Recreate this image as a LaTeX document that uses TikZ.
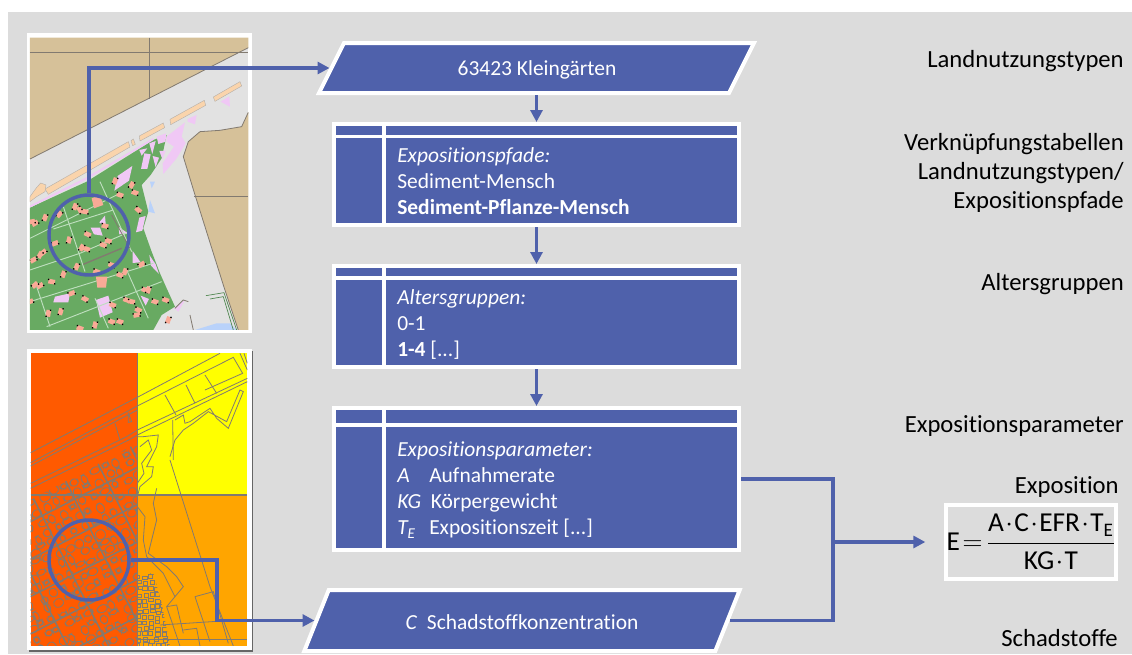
\documentclass[tikz,border=0pt]{standalone}
\usepackage{fontspec}
\setmainfont{Carlito}[Ligatures=NoCommon]
\usetikzlibrary{arrows.meta,calc}
\definecolor{panel}{RGB}{220,220,220}
\definecolor{flow}{RGB}{79,97,171}
\definecolor{sand}{RGB}{214,193,153}
\definecolor{street}{RGB}{226,226,226}
\definecolor{garden}{RGB}{104,170,98}
\definecolor{path}{RGB}{190,222,190}
\definecolor{house}{RGB}{250,170,150}
\definecolor{lilac}{RGB}{240,200,245}
\definecolor{peach}{RGB}{250,212,172}
\definecolor{water}{RGB}{185,210,250}
\definecolor{soilhigh}{RGB}{255,90,0}
\definecolor{soilmid}{RGB}{255,165,0}
\definecolor{soillow}{RGB}{255,255,0}
\definecolor{mapline}{RGB}{130,122,112}
\tikzset{
  flowline/.style={draw=flow, line width=2.6pt},
  flowarrow/.style={flowline, -{Triangle[length=9pt,width=9pt]}},
  tablebox/.style={draw=white, fill=flow, line width=3pt, inner sep=0pt, minimum width=303.75pt},
  slantbox/.style={draw=white, fill=flow, line width=3pt, inner sep=0pt, transform shape},
  tablerule/.style={draw=white, line width=2.6pt},
  boxtext/.style={text=white, align=left, anchor=north west, inner sep=0pt, font=\fontsize{16.1}{19.5}\selectfont},
  slanttext/.style={text=white, font=\fontsize{16.1}{19.5}\selectfont},
  steplabel/.style={text=black, align=right, anchor=east, inner sep=0pt, font=\fontsize{18.5}{21.75}\selectfont},
  lens/.style={circle, draw=flow, line width=2.6pt, inner sep=0pt, minimum size=60pt},
  roadline/.style={draw=mapline, line width=0.6pt},
}
\begin{document}
\begin{tikzpicture}[x=0.75pt, y=-0.75pt]
\useasboundingbox (0,0) rectangle (1132,654);
\fill[white] (0,0) rectangle (1132,654);
\fill[panel] (8,12) rectangle (1132,654);
\fill[black!60] (29,351) rectangle (253,652);
\fill[white] (27,33) rectangle (252,333);
\fill[white] (27,349) rectangle (252,650);
% land use map
\begin{scope}[shift={(20,25)}, scale=0.3333]
\clip (30,38) rectangle (685,915);
\fill[street] (30,38) rectangle (685,915);
\fill[sand] (30,38) -- (685,38) -- (685,68) -- (30,402) -- cycle;
\draw[roadline] (30,402) -- (685,68);
\draw[roadline] (30,82) -- (685,82);
\draw[roadline] (388,38) -- (388,222);
\fill[sand] (685,262) -- (665,305) -- (600,316) -- (540,320) -- (505,350) -- (490,395) -- (522,500) -- (610,780) -- (655,915) -- (685,915) -- cycle;
\draw[roadline] (685,262) -- (665,305) -- (600,316) -- (540,320) -- (505,350) -- (490,395) -- (522,500) -- (610,780) -- (655,915);
\draw[roadline] (522,514) -- (685,514);
\fill[garden] (30,548) -- (200,470) -- (400,345) -- (440,330) -- (425,400) -- (392,450) -- (365,480) -- (385,560) -- (370,610) -- (395,680) -- (420,745) -- (440,790) -- (465,845) -- (425,870) -- (400,915) -- (30,915) -- cycle;
\draw[lilac, line width=1.4pt] (30,545) -- (200,460) -- (400,342);
\foreach \pts in {{(75,492) -- (325,350) -- (330,366) -- (85,508)},
                  {(358,333) -- (430,294) -- (434,308) -- (360,348)},
                  {(450,283) -- (553,226) -- (557,241) -- (452,299)},
                  {(580,216) -- (660,170) -- (665,183) -- (585,229)},
                  {(333,347) -- (340,342) -- (346,358) -- (338,362)},
                  {(30,515) -- (48,490) -- (62,474) -- (78,480) -- (75,500) -- (50,515) -- (30,530)}}
  \draw[fill=peach, draw=mapline!60, line width=0.3pt] \pts -- cycle;
\foreach \pts in {{(440,335) -- (495,292) -- (485,335) -- (497,355) -- (470,400) -- (430,447) -- (428,415) -- (462,365) -- (440,350)},
                  {(503,282) -- (530,270) -- (525,298) -- (503,290)},
                  {(602,230) -- (628,214) -- (630,245)},
                  {(410,335) -- (438,325) -- (437,350) -- (415,357)},
                  {(105,815) -- (150,805) -- (145,832) -- (100,832)},
                  {(228,825) -- (265,812) -- (278,862) -- (240,878)},
                  {(212,608) -- (240,608) -- (248,632) -- (222,628)},
                  {(238,592) -- (255,572) -- (258,607)},
                  {(296,606) -- (324,625) -- (298,628)},
                  {(338,678) -- (362,712) -- (338,714)},
                  {(358,578) -- (377,573) -- (367,617) -- (348,622)},
                  {(293,453) -- (337,423) -- (327,467) -- (283,497)},
                  {(358,375) -- (382,370) -- (365,392)},
                  {(388,355) -- (407,348) -- (397,387)},
                  {(373,385) -- (392,388) -- (382,432) -- (363,432)},
                  {(418,378) -- (437,378) -- (427,402)},
                  {(398,393) -- (417,398) -- (407,427)},
                  {(388,690) -- (407,718) -- (417,747) -- (393,722)},
                  {(362,812) -- (387,822) -- (377,842)},
                  {(462,850) -- (495,825) -- (475,860)}}
  \fill[lilac] \pts -- cycle;
\foreach \pts in {{(30,735) -- (180,685) -- (330,620)},
                  {(100,612) -- (280,555)},
                  {(30,830) -- (400,715)},
                  {(80,905) -- (425,770)},
                  {(30,640) -- (300,505)},
                  {(130,545) -- (195,740)},
                  {(240,470) -- (335,680)},
                  {(320,735) -- (385,880)},
                  {(225,820) -- (265,910)},
                  {(45,770) -- (90,905)}}
  \draw[path, line width=0.7pt] \pts;
\draw[mapline, line width=1pt] (190,718) -- (305,670);
\draw[mapline, line width=0.6pt] (275,570) -- (330,670);
\foreach \x/\y/\a in {180/555/-60, 118/568/50, 75/578/70, 45/595/30, 285/468/70, 300/510/-20,
    345/503/-20, 335/480/60, 355/555/-40, 203/628/-25, 255/603/-15, 147/645/75, 105/655/20, 70/682/40,
    40/705/30, 200/672/-20, 265/648/-20, 130/748/70, 60/782/30, 195/822/-30, 122/860/75, 85/865/80,
    30/830/20, 275/890/-20, 225/900/75, 180/910/-20, 355/855/-25, 320/825/-20, 315/740/70, 375/795/-20,
    405/830/-20, 278/840/-20, 365/718/30, 275/720/-20, 230/740/-20, 170/725/65, 95/770/-10, 300/750/-20,
    437/825/-20, 445/885/70, 45/780/40, 155/805/20, 165/545/70, 195/560/-10, 250/660/-20, 185/668/60,
    300/890/-20, 35/590/10, 335/830/-10, 385/795/70, 60/690/60, 350/870/10}
  {
  \fill[house, shift={(\x,\y)}, rotate=\a] (-10,-7) rectangle (10,7);
  \fill[black, shift={(\x,\y)}, rotate=\a] (-12,-7) rectangle (-8,-3);
  \fill[black, shift={(\x,\y)}, rotate=\a] (8,3) rectangle (12,7);
  }
\fill[house] (228,755) -- (262,755) -- (258,788) -- (232,788) -- cycle;
\fill[house] (215,520) -- (240,510) -- (250,540) -- (222,550) -- cycle;
\fill[water] (390,470) -- (405,470) -- (395,490) -- cycle;
\fill[water] (390,525) -- (405,565) -- (385,560) -- cycle;
\fill[water] (525,915) -- (590,895) -- (630,895) -- (650,915) -- cycle;
\draw[black!45!green!40!gray, line width=0.5pt] (558,812) -- (612,803) -- (650,915);
\draw[black!45!green!40!gray, line width=0.5pt] (570,822) -- (610,815) -- (640,915);
\draw[roadline] (465,850) -- (490,825) -- (505,830);
\draw[roadline] (510,870) -- (520,915);
\end{scope}
% soil map
\begin{scope}[shift={(20,340)}, scale=0.3333]
\clip (32,40) rectangle (682,918);
\fill[soilhigh] (32,40) rectangle (352,918);
\fill[soillow] (352,40) rectangle (682,465);
\fill[soilmid] (352,465) rectangle (682,918);
\begin{scope}
\clip (32,480) -- (350,310) -- (352,918) -- (32,918) -- cycle;
\pgfmathsetseed{7}
\begin{scope}[rotate=27]
\foreach \i in {0,...,17}
  \foreach \j in {0,...,21}
    \draw[roadline, line width=0.6pt, rounded corners=3pt] (\i*35-410+7*rand,\j*34+270+7*rand) rectangle ++(24+9*rand,22+9*rand);
\foreach \j in {0,...,7}
  \draw[roadline, line width=1.1pt] (-420,\j*100+300) -- (200,\j*100+300);
\foreach \i in {0,...,5}
  \draw[roadline, line width=1.1pt] (\i*110-400,270) -- (\i*110-400,1000);
\end{scope}
\end{scope}
\begin{scope}
\clip (352,700) -- (400,700) -- (425,790) -- (450,918) -- (352,918) -- cycle;
\foreach \i in {0,...,5}
  \foreach \j in {0,...,14}
    \draw[roadline, line width=0.6pt] (\i*19+350+4*rand,\j*17+690+4*rand) rectangle ++(13,11);
\end{scope}
\draw[roadline, line width=0.9pt] (352,40) -- (352,918);
\draw[roadline, line width=0.9pt] (32,465) -- (682,465);
\draw[roadline] (32,338) -- (352,172) -- (600,40);
\draw[roadline] (32,368) -- (352,198) -- (640,52) -- (668,100) -- (555,150);
\draw[roadline] (32,378) -- (352,210);
\draw[roadline] (32,430) -- (320,290) -- (352,270) -- (682,115);
\draw[roadline] (32,445) -- (330,298) -- (352,285) -- (682,125);
\draw[roadline] (660,40) -- (682,90);
\draw[roadline] (672,40) -- (682,70);
\draw[roadline] (435,165) -- (468,225);
\draw[roadline] (498,135) -- (525,190);
\draw[roadline] (555,105) -- (590,160);
\draw[roadline] (285,250) -- (300,300);
\draw[roadline] (325,220) -- (335,245) -- (325,247) -- cycle;
\draw[roadline] (465,240) -- (490,225) -- (495,250) -- (510,245) -- (570,205) -- (590,235) -- (625,265) -- (670,155) -- (660,150) -- (620,245) -- (565,215) -- (520,250) -- (490,270) -- (465,300) -- (450,350);
\draw[roadline] (450,360) -- (570,740) -- (640,918);
\draw[roadline] (458,240) -- (460,360);
\draw[roadline] (352,290) -- (370,290) -- (415,285) -- (410,320) -- (395,350) -- (380,380) -- (400,380) -- (395,410) -- (360,440) -- (352,470);
\draw[roadline] (360,320) -- (385,300) -- (395,330) -- (365,370) -- (372,400) -- (352,430);
\draw[roadline] (410,445) -- (400,490) -- (410,540) -- (385,640) -- (440,680) -- (470,710) -- (490,740) -- (440,800) -- (480,918);
\draw[roadline] (352,500) -- (375,530) -- (370,600) -- (380,650) -- (430,700) -- (465,770);
\draw[roadline] (525,770) -- (580,755) -- (625,910);
\draw[roadline] (525,770) -- (570,905);
\draw[roadline] (420,855) -- (500,850) -- (682,838);
\draw[roadline] (352,898) -- (682,898);
\draw[roadline] (440,800) -- (470,795) -- (490,880);
\draw[roadline] (490,870) -- (530,865) -- (540,918);
\end{scope}
\node[lens] (gardenlens) at (89,235) {};
\node[lens] (soillens) at (89,560) {};
\node[slantbox, xslant=0.5, minimum width=307.5pt, minimum height=37.5pt] (gardens) at (536.5,68) {};
\node[slantbox, xslant=0.4, minimum width=308.25pt, minimum height=45.75pt] (pollutant) at (522,620.5) {};
\node[tablebox, minimum height=75.75pt] (paths) at (536.5,174.5) {};
\node[tablebox, minimum height=75.75pt] (ages) at (536.5,316.5) {};
\node[tablebox, minimum height=106.5pt] (params) at (536.5,479) {};
\foreach \tb/\rulepos in {paths/14.5, ages/14, params/19}
  {
  \draw[tablerule] ($(\tb.north west)+(2,\rulepos)$) -- ($(\tb.north east)+(-2,\rulepos)$);
  \draw[tablerule] ($(\tb.north west)+(52,2)$) -- ($(\tb.south west)+(52,-2)$);
  }
\node[slanttext] (gardenstext) at (537,69.5) {63423 Kleingärten};
\node[slanttext] (pollutanttext) at (522,622) {\textit{C}\ \ Schadstoffkonzentration};
\node[boxtext] (pathstext) at (397,147) {\textit{Expositionspfade:}\\Sediment-Mensch\\\textbf{Sediment-Pflanze-Mensch}};
\node[boxtext] (agestext) at (397,289) {\textit{Altersgruppen:}\\0-1\\\textbf{1-4} [...]};
\node[boxtext] (paramstext) at (397,441.5) {\textit{Expositionsparameter:}\\\makebox[24pt][l]{\textit{A}}Aufnahmerate\\\textit{KG}\ \ Körpergewicht\\\makebox[24pt][l]{\textit{T\textsubscript{E}}}Expositionszeit [...]};
\node[draw=white, line width=3pt, inner sep=0pt, minimum width=127.5pt, minimum height=55.5pt, font=\fontsize{20.5}{24}\selectfont] (formula) at (1031,542) {E\kern2pt$=$\kern3pt$\displaystyle\frac{\mbox{A\kern1pt$\cdot$\kern1pt C\kern1pt$\cdot$\kern1pt EFR\kern1pt$\cdot$\kern1pt T\textsubscript{E}}}{\mbox{KG\kern1pt$\cdot$\kern1pt T}}$};
\node[steplabel] (landuselabel) at (1124,61) {Landnutzungstypen};
\node[steplabel] (pathslabel) at (1124,173) {Verknüpfungstabellen\\Landnutzungstypen/\\Expositionspfade};
\node[steplabel] (ageslabel) at (1124,284.5) {Altersgruppen};
\node[steplabel] (paramslabel) at (1124,425.5) {Expositionsparameter};
\node[steplabel] (formulalabel) at (1119,486.5) {Exposition};
\node[steplabel] (pollutantlabel) at (1118,638.5) {Schadstoffe};
\coordinate (soilbend) at (217,560);
\coordinate (junction) at (833,542);
\draw[flowarrow] (gardenlens.north) |- (gardens.west);
\draw[flowarrow] (soillens.east) -- (soilbend) |- (pollutant.west);
\draw[flowarrow] (gardens.south -| paths.north) -- (paths.north);
\draw[flowarrow] (paths.south) -- (ages.north);
\draw[flowarrow] (ages.south) -- (params.north);
\draw[flowline] (params.east) -| (junction) |- (pollutant.east);
\draw[flowarrow, shorten >=14pt] (junction) -- (formula.west);
\end{tikzpicture}
\end{document}
